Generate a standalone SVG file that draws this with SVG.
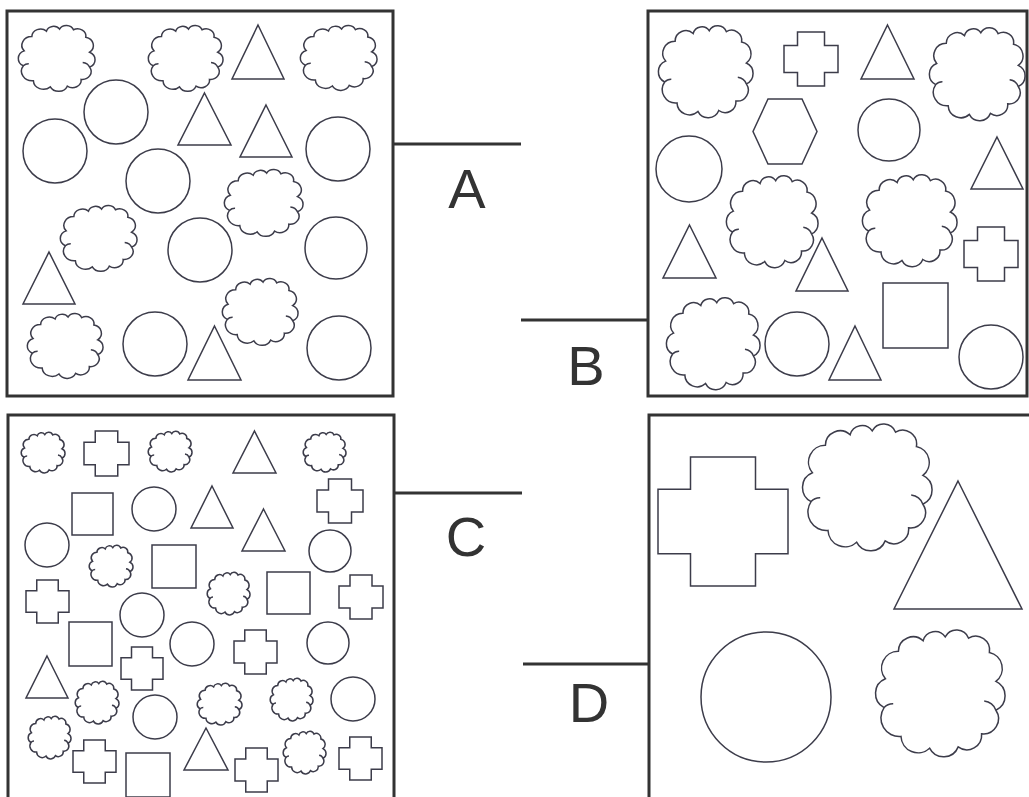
<svg xmlns="http://www.w3.org/2000/svg" xmlns:xlink="http://www.w3.org/1999/xlink" width="1029" height="797" viewBox="0 0 1029 797">
<style>
.frame{fill:none;stroke:#333;stroke-width:3}
.sh{fill:none;stroke:#3c3c4a;stroke-width:1.5;vector-effect:non-scaling-stroke;stroke-linejoin:miter}
.conn{stroke:#333;stroke-width:3}
.lbl{font-family:"Liberation Sans",Arial,sans-serif;font-size:56px;fill:#333;text-anchor:middle}
</style>
<defs>
<path id="cloud" class="sh" d="M8,38 A12.8,12.8 0 0 1 18,17 A11.3,11.3 0 0 1 37,9 A9.5,9.5 0 0 1 54,6 A9.9,9.9 0 0 1 72,7 A10.7,10.7 0 0 1 88,18 A12.4,12.4 0 0 1 93,40 A12.1,12.1 0 0 1 93,62 A11.6,11.6 0 0 1 82,80 A11.3,11.3 0 0 1 64,90 A12.1,12.1 0 0 1 42,91 A13.1,13.1 0 0 1 20,82 A14.1,14.1 0 0 1 7,60 A12.1,12.1 0 0 1 8,38 Z M93,62 A11,11 0 0 0 84,55 M7,60 A9,9 0 0 1 14,57"/>
<path id="cross" class="sh" d="M25,0H75V25H100V75H75V100H25V75H0V25H25Z"/>
<path id="tri" class="sh" d="M50,0L100,100H0Z"/>
</defs>
<rect width="1029" height="797" fill="#fff"/>

<g id="connectors">
<line class="conn" x1="393" y1="144" x2="521" y2="144"/>
<line class="conn" x1="521" y1="320" x2="648" y2="320"/>
<line class="conn" x1="394" y1="493" x2="522" y2="493"/>
<line class="conn" x1="523" y1="664" x2="649" y2="664"/>
</g>

<g id="label-A"><text class="lbl" x="467" y="208">A</text></g>
<g id="label-B"><text class="lbl" x="586" y="385">B</text></g>
<g id="label-C"><text class="lbl" x="466" y="556">C</text></g>
<g id="label-D"><text class="lbl" x="589" y="722">D</text></g>

<g id="panel-A">
<rect class="frame" x="7" y="11" width="386" height="385"/>
<use href="#cloud" transform="translate(18,25) scale(.77,.68)"/>
<use href="#cloud" transform="translate(148,25) scale(.75,.68)"/>
<use href="#cloud" transform="translate(300,25) scale(.77,.67)"/>
<use href="#cloud" transform="translate(224,169) scale(.79,.69)"/>
<use href="#cloud" transform="translate(60,205) scale(.77,.68)"/>
<use href="#cloud" transform="translate(222,278) scale(.76,.69)"/>
<use href="#cloud" transform="translate(27,313) scale(.76,.67)"/>
<use href="#tri" transform="translate(232,25) scale(.52,.54)"/>
<use href="#tri" transform="translate(178,93) scale(.53,.52)"/>
<use href="#tri" transform="translate(240,105) scale(.52,.52)"/>
<use href="#tri" transform="translate(23,252) scale(.52,.52)"/>
<use href="#tri" transform="translate(188,326) scale(.53,.54)"/>
<circle class="sh" cx="116" cy="112" r="32"/>
<circle class="sh" cx="55" cy="151" r="32"/>
<circle class="sh" cx="338" cy="149" r="32"/>
<circle class="sh" cx="158" cy="181" r="32"/>
<circle class="sh" cx="200" cy="250" r="32"/>
<circle class="sh" cx="336" cy="248" r="31"/>
<circle class="sh" cx="155" cy="344" r="32"/>
<circle class="sh" cx="339" cy="348" r="32"/>
</g>

<g id="panel-B">
<rect class="frame" x="648" y="11" width="379" height="385"/>
<use href="#cloud" transform="translate(658,25) scale(.95,.95)"/>
<use href="#cloud" transform="translate(929,27) scale(.96,.96)"/>
<use href="#cloud" transform="translate(726,175) scale(.92,.95)"/>
<use href="#cloud" transform="translate(862,174) scale(.95,.95)"/>
<use href="#cloud" transform="translate(666,297) scale(.94,.95)"/>
<use href="#cross" transform="translate(784,32) scale(.54,.54)"/>
<use href="#cross" transform="translate(964,227) scale(.54,.54)"/>
<use href="#tri" transform="translate(861,25) scale(.53,.54)"/>
<use href="#tri" transform="translate(971,137) scale(.52,.52)"/>
<use href="#tri" transform="translate(663,225) scale(.53,.53)"/>
<use href="#tri" transform="translate(796,238) scale(.52,.53)"/>
<use href="#tri" transform="translate(829,326) scale(.52,.54)"/>
<polygon class="sh" points="768,99 802,99 817,131.5 802,164 768,164 753,131.5"/>
<circle class="sh" cx="889" cy="130" r="31"/>
<circle class="sh" cx="689" cy="169" r="33"/>
<circle class="sh" cx="797" cy="344" r="32"/>
<circle class="sh" cx="991" cy="357" r="32"/>
<rect class="sh" x="883" y="283" width="65" height="65"/>
</g>

<g id="panel-C">
<rect class="frame" x="8" y="415" width="386" height="400"/>
<use href="#cloud" transform="translate(21,432) scale(.44,.42)"/>
<use href="#cloud" transform="translate(148,431) scale(.44,.42)"/>
<use href="#cloud" transform="translate(303,432) scale(.43,.41)"/>
<use href="#cloud" transform="translate(89,545) scale(.44,.43)"/>
<use href="#cloud" transform="translate(207,572) scale(.43,.44)"/>
<use href="#cloud" transform="translate(75,681) scale(.44,.44)"/>
<use href="#cloud" transform="translate(197,683) scale(.45,.43)"/>
<use href="#cloud" transform="translate(270,678) scale(.43,.44)"/>
<use href="#cloud" transform="translate(28,716) scale(.43,.44)"/>
<use href="#cloud" transform="translate(283,731) scale(.43,.44)"/>
<use href="#cross" transform="translate(84,431) scale(.45,.45)"/>
<use href="#cross" transform="translate(317,479) scale(.46,.44)"/>
<use href="#cross" transform="translate(26,580) scale(.43,.43)"/>
<use href="#cross" transform="translate(339,575) scale(.44,.44)"/>
<use href="#cross" transform="translate(234,630) scale(.43,.44)"/>
<use href="#cross" transform="translate(121,647) scale(.42,.43)"/>
<use href="#cross" transform="translate(73,740) scale(.43,.43)"/>
<use href="#cross" transform="translate(235,748) scale(.43,.44)"/>
<use href="#cross" transform="translate(339,737) scale(.43,.43)"/>
<use href="#tri" transform="translate(233,431) scale(.43,.42)"/>
<use href="#tri" transform="translate(191,486) scale(.42,.42)"/>
<use href="#tri" transform="translate(242,509) scale(.43,.42)"/>
<use href="#tri" transform="translate(26,656) scale(.42,.42)"/>
<use href="#tri" transform="translate(184,728) scale(.44,.42)"/>
<rect class="sh" x="72" y="493" width="41" height="42"/>
<rect class="sh" x="152" y="545" width="44" height="43"/>
<rect class="sh" x="267" y="572" width="43" height="42"/>
<rect class="sh" x="69" y="622" width="43" height="44"/>
<rect class="sh" x="126" y="753" width="44" height="44"/>
<circle class="sh" cx="154" cy="509" r="22"/>
<circle class="sh" cx="47" cy="545" r="22"/>
<circle class="sh" cx="330" cy="551" r="21"/>
<circle class="sh" cx="142" cy="615" r="22"/>
<circle class="sh" cx="192" cy="644" r="22"/>
<circle class="sh" cx="328" cy="643" r="21"/>
<circle class="sh" cx="155" cy="717" r="22"/>
<circle class="sh" cx="353" cy="699" r="22"/>
</g>

<g id="panel-D">
<rect class="frame" x="649" y="415" width="400" height="400"/>
<use href="#cross" transform="translate(658,457) scale(1.30,1.29)"/>
<use href="#cloud" transform="translate(802,423) scale(1.30,1.31)"/>
<use href="#cloud" transform="translate(875,629) scale(1.30,1.31)"/>
<use href="#tri" transform="translate(894,481) scale(1.28,1.28)"/>
<circle class="sh" cx="766" cy="697" r="65"/>
</g>
</svg>
